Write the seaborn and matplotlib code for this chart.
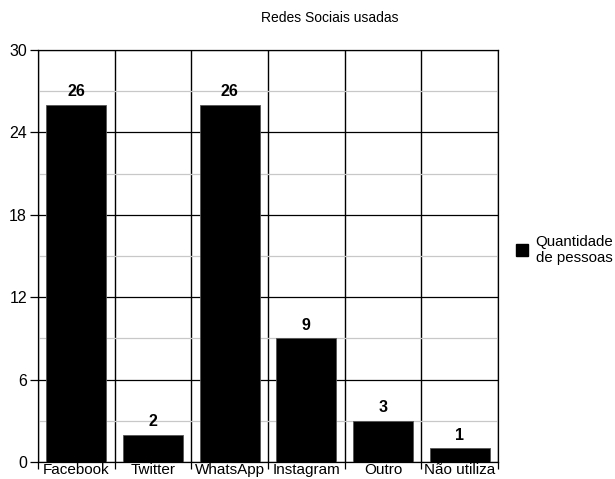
import matplotlib
matplotlib.use("Agg")
import matplotlib.pyplot as plt
import seaborn as sns
import numpy as np
import pandas as pd
from matplotlib.ticker import MultipleLocator, FixedLocator
from matplotlib.patches import Patch

categories = ["Facebook", "Twitter", "WhatsApp", "Instagram", "Outro", "Não utiliza"]
values = [26, 2, 26, 9, 3, 1]
series_name = "Quantidade\nde pessoas"
title = "Redes Sociais usadas"
yticks = [0, 6, 12, 18, 24, 30]

sns.set_style("white")
plt.rcParams['font.family'] = ['Liberation Sans', 'DejaVu Sans']
plt.rcParams['text.color'] = 'black'
plt.rcParams['xtick.color'] = 'black'
plt.rcParams['ytick.color'] = 'black'
plt.rcParams['xtick.labelcolor'] = 'black'
plt.rcParams['ytick.labelcolor'] = 'black'

df = pd.DataFrame({"cat": categories, "val": values})

fig = plt.figure(figsize=(6.15, 4.79), dpi=100)
ax = fig.add_axes([38/615, 17/479, 460/615, 412/479])

sns.barplot(data=df, x="cat", y="val", color="black", width=0.78, ax=ax,
            saturation=1, edgecolor="#555555", linewidth=0.6, zorder=3)

ax.set_ylim(0, 30)
ax.set_xlim(-0.5, len(categories) - 0.5)
ax.set_yticks(yticks)
ax.yaxis.set_minor_locator(MultipleLocator(3))
ax.xaxis.set_minor_locator(FixedLocator(np.arange(-0.5, len(categories), 1.0)))

ax.grid(which="major", axis="y", color="black", linewidth=0.9, zorder=1)
ax.grid(which="minor", axis="y", color="#c8c8c8", linewidth=0.9, zorder=0)
ax.grid(which="minor", axis="x", color="black", linewidth=1.0, zorder=1)
ax.set_axisbelow(True)

ax.tick_params(axis="y", which="major", length=6, width=0.9, color="black",
               labelsize=11.5, pad=2, left=True, labelcolor="black")
ax.tick_params(axis="y", which="minor", length=0)
ax.tick_params(axis="x", which="major", length=0, labelsize=11, pad=0.5,
               labelcolor="black")
ax.tick_params(axis="x", which="minor", length=5, width=0.9, color="black", bottom=True)

for s in ["top", "right", "left", "bottom"]:
    ax.spines[s].set_visible(True)
    ax.spines[s].set_color("black")
    ax.spines[s].set_linewidth(0.9)

ax.set_xlabel("")
ax.set_ylabel("")

for c in ax.containers:
    ax.bar_label(c, labels=[str(v) for v in values], padding=4,
                 fontsize=11.5, fontweight="bold", color="black")

fig.text(330/615, 1 - 18/479, title, ha="center", va="center", fontsize=10,
         color="black")

handle = Patch(facecolor="black", edgecolor="black")
fig.legend([handle], [series_name], loc="center left",
           bbox_to_anchor=(502/615, 1 - 250/479), frameon=False,
           fontsize=10.8, handlelength=0.85, handleheight=0.85,
           handletextpad=0.5, labelspacing=0.2, labelcolor="black")

fig.savefig("out.png", dpi=100)
